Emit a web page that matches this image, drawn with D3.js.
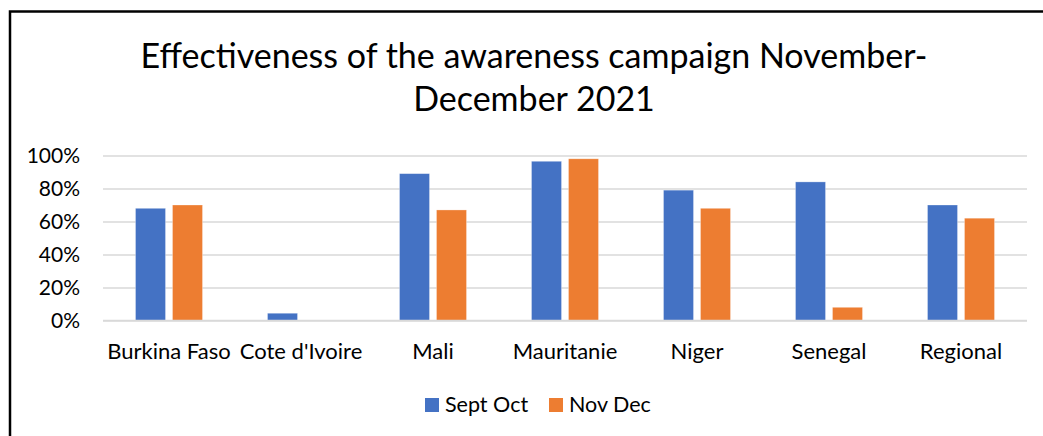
<!DOCTYPE html>
<html>
<head>
<meta charset="utf-8">
<script src="https://cdn.jsdelivr.net/npm/d3@7"></script>
<style>
  body { margin: 0; background: #fff; }
  text { font-family: Lato, "Open Sans", sans-serif; fill: #000; }
</style>
</head>
<body>
<svg id="chart" width="1043" height="436"></svg>
<script>
const categories = ["Burkina Faso", "Cote d'Ivoire", "Mali", "Mauritanie", "Niger", "Senegal", "Regional"];
const seriesNames = ["Sept Oct", "Nov Dec"];
const septOct = [0.68, 0.044, 0.89, 0.965, 0.79, 0.84, 0.70];
const novDec = [0.70, 0, 0.67, 0.98, 0.68, 0.08, 0.62];
const yTicks = [0, 0.2, 0.4, 0.6, 0.8, 1];
const titleLines = ["Effectiveness of the awareness campaign November-", "December 2021"];
const colors = ["#4472C4", "#ED7D31"];

const width = 1043;
const height = 436;
const svg = d3.select("#chart");

// chart frame, runs off the right and bottom of the picture
svg.append("rect")
  .attr("x", 10).attr("y", 11.5)
  .attr("width", 1100).attr("height", 500)
  .attr("fill", "none").attr("stroke", "#000").attr("stroke-width", 2.5);

// title
svg.append("g").selectAll("text")
  .data(titleLines)
  .join("text")
  .attr("x", 534)
  .attr("y", (d, i) => 68 + i * 43)
  .attr("text-anchor", "middle")
  .style("font-size", "34px")
  .text(d => d);

const plot = { left: 103, right: 1027, top: 155.5, bottom: 320.5 };

const x0 = d3.scaleBand()
  .domain(categories)
  .range([plot.left, plot.right])
  .paddingInner(0.4924)
  .paddingOuter(0.2462);

const x1 = d3.scaleBand()
  .domain(seriesNames)
  .range([0, x0.bandwidth()])
  .paddingInner(0.189);

const y = d3.scaleLinear()
  .domain([0, 1])
  .range([plot.bottom, plot.top]);

// gridlines
svg.append("g")
  .attr("class", "grid")
  .attr("transform", "translate(" + plot.left + ",0)")
  .call(d3.axisLeft(y).tickValues(yTicks).tickSize(-(plot.right - plot.left)).tickFormat(""))
  .call(g => g.select(".domain").remove())
  .call(g => g.selectAll("line").attr("stroke", "#d9d9d9").attr("stroke-width", 1.5));

// y tick labels
svg.append("g")
  .attr("transform", "translate(80,0)")
  .call(d3.axisLeft(y).tickValues(yTicks).tickSize(0).tickPadding(0).tickFormat(d3.format(".0%")))
  .call(g => g.select(".domain").remove())
  .call(g => g.selectAll("text").style("font-size", "21px").attr("fill", "#000").style("font-family", "Lato"));

// bars
const series = [septOct, novDec];
const rows = categories.map((c, i) => ({ cat: c, vals: series.map((s, j) => ({ name: seriesNames[j], value: s[i], color: colors[j] })) }));

svg.append("g").selectAll("g")
  .data(rows)
  .join("g")
  .attr("transform", d => "translate(" + x0(d.cat) + ",0)")
  .selectAll("rect")
  .data(d => d.vals.filter(v => v.value > 0))
  .join("rect")
  .attr("x", d => x1(d.name))
  .attr("y", d => y(d.value))
  .attr("width", x1.bandwidth())
  .attr("height", d => y(0) - y(d.value))
  .attr("fill", d => d.color)
  .attr("stroke", "#fff")
  .attr("stroke-opacity", 0.4)
  .attr("stroke-width", 0.75);

// baseline axis
svg.append("line")
  .attr("x1", plot.left).attr("x2", plot.right)
  .attr("y1", y(0)).attr("y2", y(0))
  .attr("stroke", "#d9d9d9").attr("stroke-width", 1.5);

// category labels
svg.append("g")
  .attr("transform", "translate(0," + y(0) + ")")
  .call(d3.axisBottom(x0).tickSize(0).tickPadding(0))
  .call(g => g.select(".domain").remove())
  .call(g => g.selectAll("text")
    .attr("dy", 0).attr("y", 38)
    .attr("fill", "#000")
    .style("font-size", "22px").style("font-family", "Lato"));

// legend
const legend = svg.append("g").attr("transform", "translate(425,398)");
const legendX = [0, 124];
const item = legend.selectAll("g")
  .data(seriesNames)
  .join("g")
  .attr("transform", (d, i) => "translate(" + legendX[i] + ",0)");
item.append("rect")
  .attr("width", 14).attr("height", 14)
  .attr("fill", (d, i) => colors[i]);
item.append("text")
  .attr("x", 20).attr("y", 14)
  .style("font-size", "21.5px")
  .text(d => d);
</script>
</body>
</html>
